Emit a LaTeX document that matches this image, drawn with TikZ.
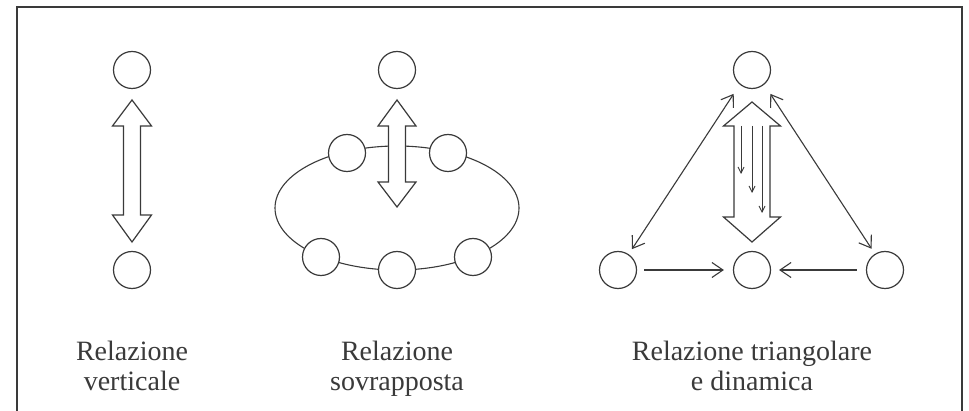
\documentclass[tikz,border=0pt]{standalone}
\usepackage{fontspec}
\setmainfont{Liberation Serif}
\usetikzlibrary{arrows.meta}
\definecolor{ink}{HTML}{3A3A3A}
\newcommand\dblarr[7]{% cx, tip1, base1, base2, tip2, head hw, shaft hw
  \draw[bigarrow] (#1,#2) -- ({#1+#6},#3) -- ({#1+#7},#3) -- ({#1+#7},#4) -- ({#1+#6},#4)
    -- (#1,#5) -- ({#1-#6},#4) -- ({#1-#7},#4) -- ({#1-#7},#3) -- ({#1-#6},#3) -- cycle;}
\begin{document}
\begin{tikzpicture}[x=1pt,y=-1pt,
  circ/.style={circle,draw=ink,line width=1.2pt,minimum size=37pt,inner sep=0pt,fill=white},
  bigarrow/.style={draw=ink,line width=1.2pt,fill=white,line join=miter},
  conn/.style={draw=ink,line width=1.1pt},
  barb/.style={-{Straight Barb[length=11pt,width=15pt]}},
  dbarb/.style={{Straight Barb[length=11pt,width=15pt]}-{Straight Barb[length=11pt,width=15pt]}},
  thin/.style={draw=ink,line width=0.9pt,-{Straight Barb[length=6pt,width=6pt]}},
  lbl/.style={align=center,text=ink,inner sep=0pt,font=\fontsize{28}{30}\selectfont}
]
\useasboundingbox (0,0) rectangle (969,411);
\fill[white] (0,0) rectangle (969,411);
% frame (open at the bottom)
\draw[ink,line width=2pt] (17,430) -- (17,7) -- (962,7) -- (962,430);

% ---- left: vertical relation
\node[circ] (vt) at (132,70) {};
\node[circ] (vb) at (132,270) {};
\dblarr{132}{100}{126}{215}{242}{19.5}{8.5}
\node[lbl,anchor=base] (lv) at (132,391) {Relazione\\verticale};

% ---- middle: overlapping relation
\draw[conn] (397,208) ellipse [x radius=122, y radius=62];
\node[circ] (st) at (397,70) {};
\node[circ] (sul) at (347,153) {};
\node[circ] (sur) at (448,153) {};
\node[circ] (sll) at (321,257) {};
\node[circ] (slm) at (397,270) {};
\node[circ] (slr) at (473,257) {};
\dblarr{397}{100}{126}{182}{207}{19}{8.5}
\node[lbl,anchor=base] (ls) at (397,391) {Relazione\\sovrapposta};

% ---- right: triangular and dynamic relation
\node[circ] (tt) at (752,70) {};
\node[circ] (tl) at (618,270) {};
\node[circ] (tm) at (752,270) {};
\node[circ] (tr) at (885,270) {};
\dblarr{752}{102}{126}{217}{242}{28.5}{18}
\coordinate (a1s) at (741,126); \coordinate (a1e) at (741,174);
\coordinate (a2s) at (752,126); \coordinate (a2e) at (752,193);
\coordinate (a3s) at (762,126); \coordinate (a3e) at (762,213);
\draw[thin] (a1s) -- (a1e);
\draw[thin] (a2s) -- (a2e);
\draw[thin] (a3s) -- (a3e);
\draw[conn,dbarb,shorten <=11pt,shorten >=6pt] (tt.-130) -- (tl.56);
\draw[conn,dbarb,shorten <=11pt,shorten >=6pt] (tt.-50) -- (tr.122);
\draw[conn,barb,shorten <=7pt,shorten >=9pt] (tl) -- (tm);
\draw[conn,barb,shorten <=9pt,shorten >=8pt] (tr) -- (tm);
\node[lbl,anchor=base] (lt) at (752,391) {Relazione triangolare\\e dinamica};
\end{tikzpicture}
\end{document}
